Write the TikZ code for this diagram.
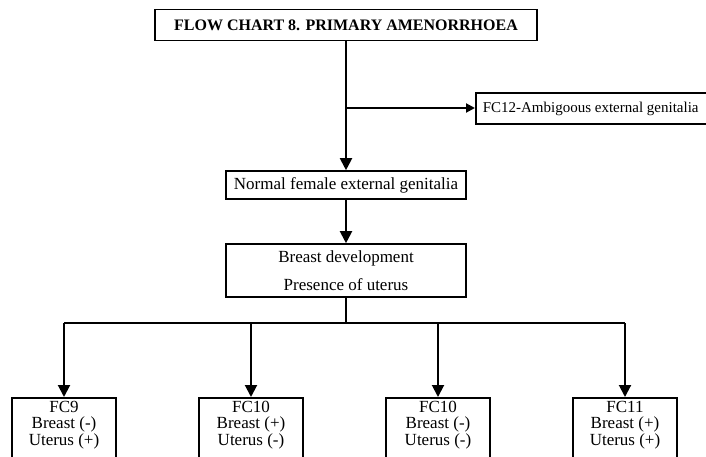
\documentclass[tikz,border=0pt]{standalone}
\usepackage{fontspec}
\setmainfont{Liberation Serif}
\usetikzlibrary{arrows.meta}

% three-line content of the result boxes, hanging from the top edge
\newcommand\fcstack[1]{\parbox[t][62pt][t]{92pt}{\centering #1}}

\tikzset{
  every node/.style={font=\fontsize{17}{16.5}\selectfont},
  box/.style={draw, line width=1.6pt, inner sep=0pt, align=center},
  titlebox/.style={box, minimum width=382pt, minimum height=31pt,
    font=\fontsize{16}{18}\selectfont\bfseries},
  midbox/.style={box, minimum width=240pt},
  fcbox/.style={draw, line width=1.6pt, anchor=north, inner xsep=6pt, inner ysep=3pt},
  flow/.style={line width=2pt, -{Triangle[width=12pt,length=12pt]}},
  sideflow/.style={line width=2pt, -{Triangle[width=9pt,length=9pt]}},
  trunk/.style={line width=2pt}
}

\begin{document}
\begin{tikzpicture}[x=1pt,y=-1pt]
  \useasboundingbox (0,0) rectangle (706,457);

  % header and the main column
  \node[titlebox] (title) at (346,25) {FLOW CHART 8. PRIMARY AMENORRHOEA};
  \node[box, minimum height=31pt, inner xsep=7pt, anchor=west,
        font=\fontsize{15}{16}\selectfont]
    (fc12) at (475,108.5) {\makebox[230pt][l]{FC12-Ambigoous external genitalia}};
  \node[midbox, minimum height=28pt] (normal) at (346,185)
    {Normal female external genitalia};
  \node[midbox, minimum height=53pt] (breast) at (346,270.5)
    {Breast development\\[12pt]Presence of uterus};

  % result boxes along the bottom edge
  \node[fcbox] (fc9)  at (64,397)  {\fcstack{FC9\\Breast (-)\\Uterus (+)}};
  \node[fcbox] (fc10a) at (251,397) {\fcstack{FC10\\Breast (+)\\Uterus (-)}};
  \node[fcbox] (fc10b) at (438,397) {\fcstack{FC10\\Breast (-)\\Uterus (-)}};
  \node[fcbox] (fc11) at (625,397) {\fcstack{FC11\\Breast (+)\\Uterus (+)}};

  % connectors
  \coordinate (side) at (346,108);
  \draw[trunk] (title.south) -- (side);
  \draw[flow] (side) -- (normal.north);
  \draw[sideflow] (side) -- (fc12.west |- side);
  \draw[flow] (normal.south) -- (breast.north);

  \coordinate (bus) at (346,323);
  \draw[trunk] (breast.south) -- (bus);
  \draw[trunk] (fc9.north |- bus) -- (fc11.north |- bus);
  \foreach \n in {fc9,fc10a,fc10b,fc11}
    \draw[flow] (\n.north |- bus) -- (\n.north);
\end{tikzpicture}
\end{document}
